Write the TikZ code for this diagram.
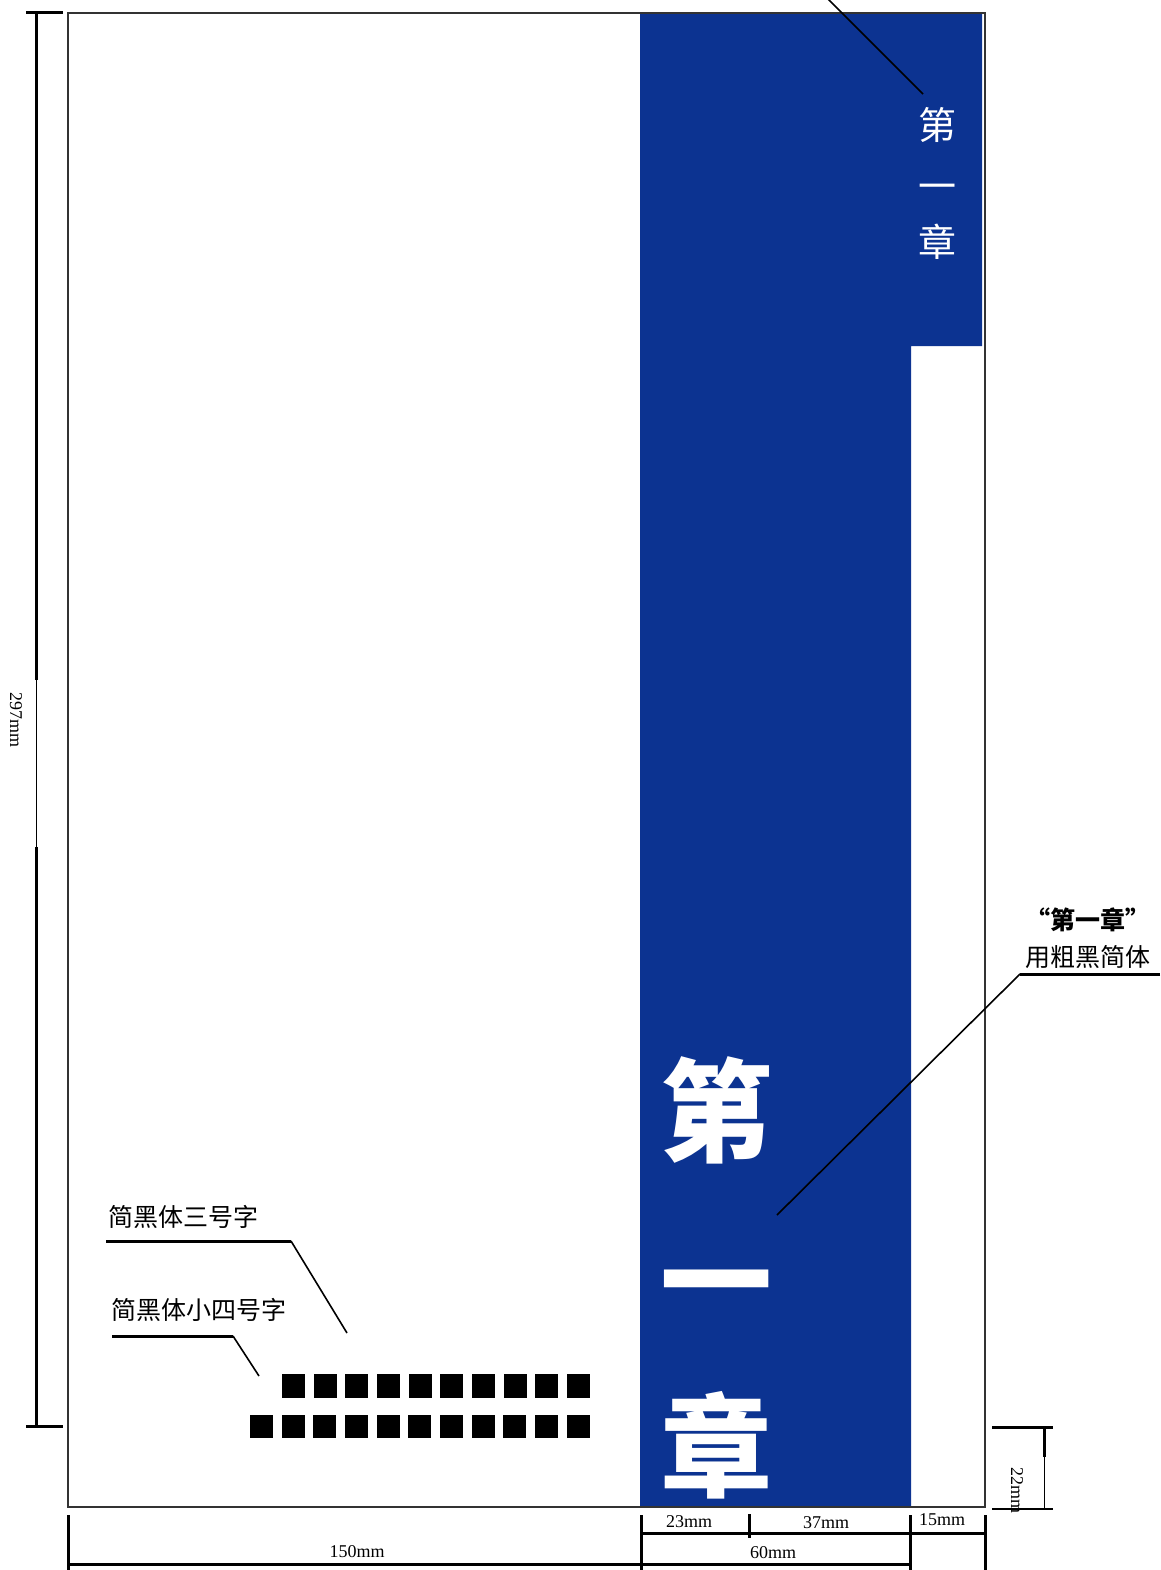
\documentclass[tikz,border=0pt]{standalone}
\usepackage{fontspec}
\setmainfont{Liberation Serif}
\newfontfamily\cjk{Noto Sans CJK SC}
\definecolor{bandblue}{HTML}{0C3391}
\tikzset{
	dimline/.style = {line width = 3pt},
	thinline/.style = {line width = 1pt},
	leader/.style = {line width = 1.6pt},
	dimtext/.style = {font = \fontsize{18}{20}\selectfont, inner sep = 0pt},
	note/.style = {font = \cjk\fontsize{25}{28}\selectfont, inner sep = 0pt},
	spine/.style = {font = \cjk\fontsize{38}{40}\selectfont, white, inner sep = 0pt},
	bigchar/.style = {font = \cjk\bfseries\fontsize{112}{112}\selectfont, white, inner sep = 0pt}
}
\begin{document}
\begin{tikzpicture}[x = 1pt, y = -1pt]
	\useasboundingbox (0, 0) rectangle (1160, 1570);
	
	\fill[bandblue] (640, 13) -- (982, 13) -- (982, 346) -- (911, 346) -- (911, 1507) -- (640, 1507) -- cycle;
	\draw[line width = 1.5pt, black!80] (68, 13) rectangle (985, 1507);
	
	% 297mm
	\draw[dimline] (26, 13) -- (63, 13);
	\draw[dimline] (26, 1426) -- (63, 1426);
	\draw[dimline] (36, 13) -- (36, 680);
	\draw[thinline] (36, 680) -- (36, 847);
	\draw[dimline] (36, 847) -- (36, 1426);
	\node[dimtext, rotate = -90] (h297) at (16, 720) {297mm};
	
	% 22mm
	\draw[dimline] (992, 1427) -- (1053, 1427);
	\draw[dimline] (1044, 1427) -- (1044, 1457);
	\draw[thinline] (1044, 1457) -- (1044, 1509);
	\draw[leader] (992, 1509) -- (1053, 1509);
	\node[dimtext, rotate = -90] (h22) at (1017, 1490) {22mm};
	
	% widths
	\foreach \x in {68, 641, 910, 985} {
		\draw[dimline] (\x, 1515) -- (\x, 1570);
	}
	\draw[dimline] (749, 1514) -- (749, 1538);
	\draw[dimline] (641, 1533) -- (985, 1533);
	\draw[dimline] (68, 1564) -- (910, 1564);
	\node[dimtext] (w23) at (689, 1522) {23mm};
	\node[dimtext] (w37) at (826, 1523) {37mm};
	\node[dimtext] (w15) at (942, 1520) {15mm};
	\node[dimtext] (w60) at (773, 1553) {60mm};
	\node[dimtext] (w150) at (357, 1552) {150mm};
	
	% chapter title
	\foreach \c/\y [count = \i] in {第/125, 一/192.5, 章/242} {
		\node[spine] (spine\i) at (937, \y) {\c};
	}
	\node[bigchar] (big1) at (716, 1110) {第};
	\node[bigchar] (big2) at (716, 1296) {一};
	\node[bigchar] (big3) at (716, 1445) {章};
	
	% text squares
	\foreach \i in {0, ..., 9} {
		\fill (282 + 31.67*\i, 1374) rectangle ++(23, 24);
	}
	\foreach \i in {0, ..., 10} {
		\fill (250 + 31.67*\i, 1415) rectangle ++(23, 23);
	}
	
	% notes
	\node[note, anchor = west] (n3) at (108, 1217) {简黑体三号字};
	\node[note, anchor = west] (n4) at (111, 1310) {简黑体小四号字};
	\node[note, font = \cjk\bfseries\fontsize{25}{28}\selectfont] (nq) at (1088, 920) {“第一章”};
	\node[note] (nf) at (1088, 957) {用粗黑简体};
	
	\coordinate (l3a) at (106, 1241);
	\coordinate (l3b) at (291, 1241);
	\coordinate (l3c) at (347, 1333);
	\coordinate (l4a) at (112, 1336);
	\coordinate (l4b) at (233, 1336);
	\coordinate (l4c) at (259, 1376);
	\coordinate (lfa) at (1160, 974);
	\coordinate (lfb) at (1020, 974);
	\coordinate (lfc) at (777, 1215);
	\coordinate (lsa) at (827, -2);
	\coordinate (lsb) at (923, 94);
	
	\draw[dimline] (l3a) -- (l3b);
	\draw[leader] (l3b) -- (l3c);
	\draw[dimline] (l4a) -- (l4b);
	\draw[leader] (l4b) -- (l4c);
	\draw[dimline] (lfa) -- (lfb);
	\draw[leader] (lfb) -- (lfc);
	\draw[leader] (lsa) -- (lsb);
\end{tikzpicture}
\end{document}
